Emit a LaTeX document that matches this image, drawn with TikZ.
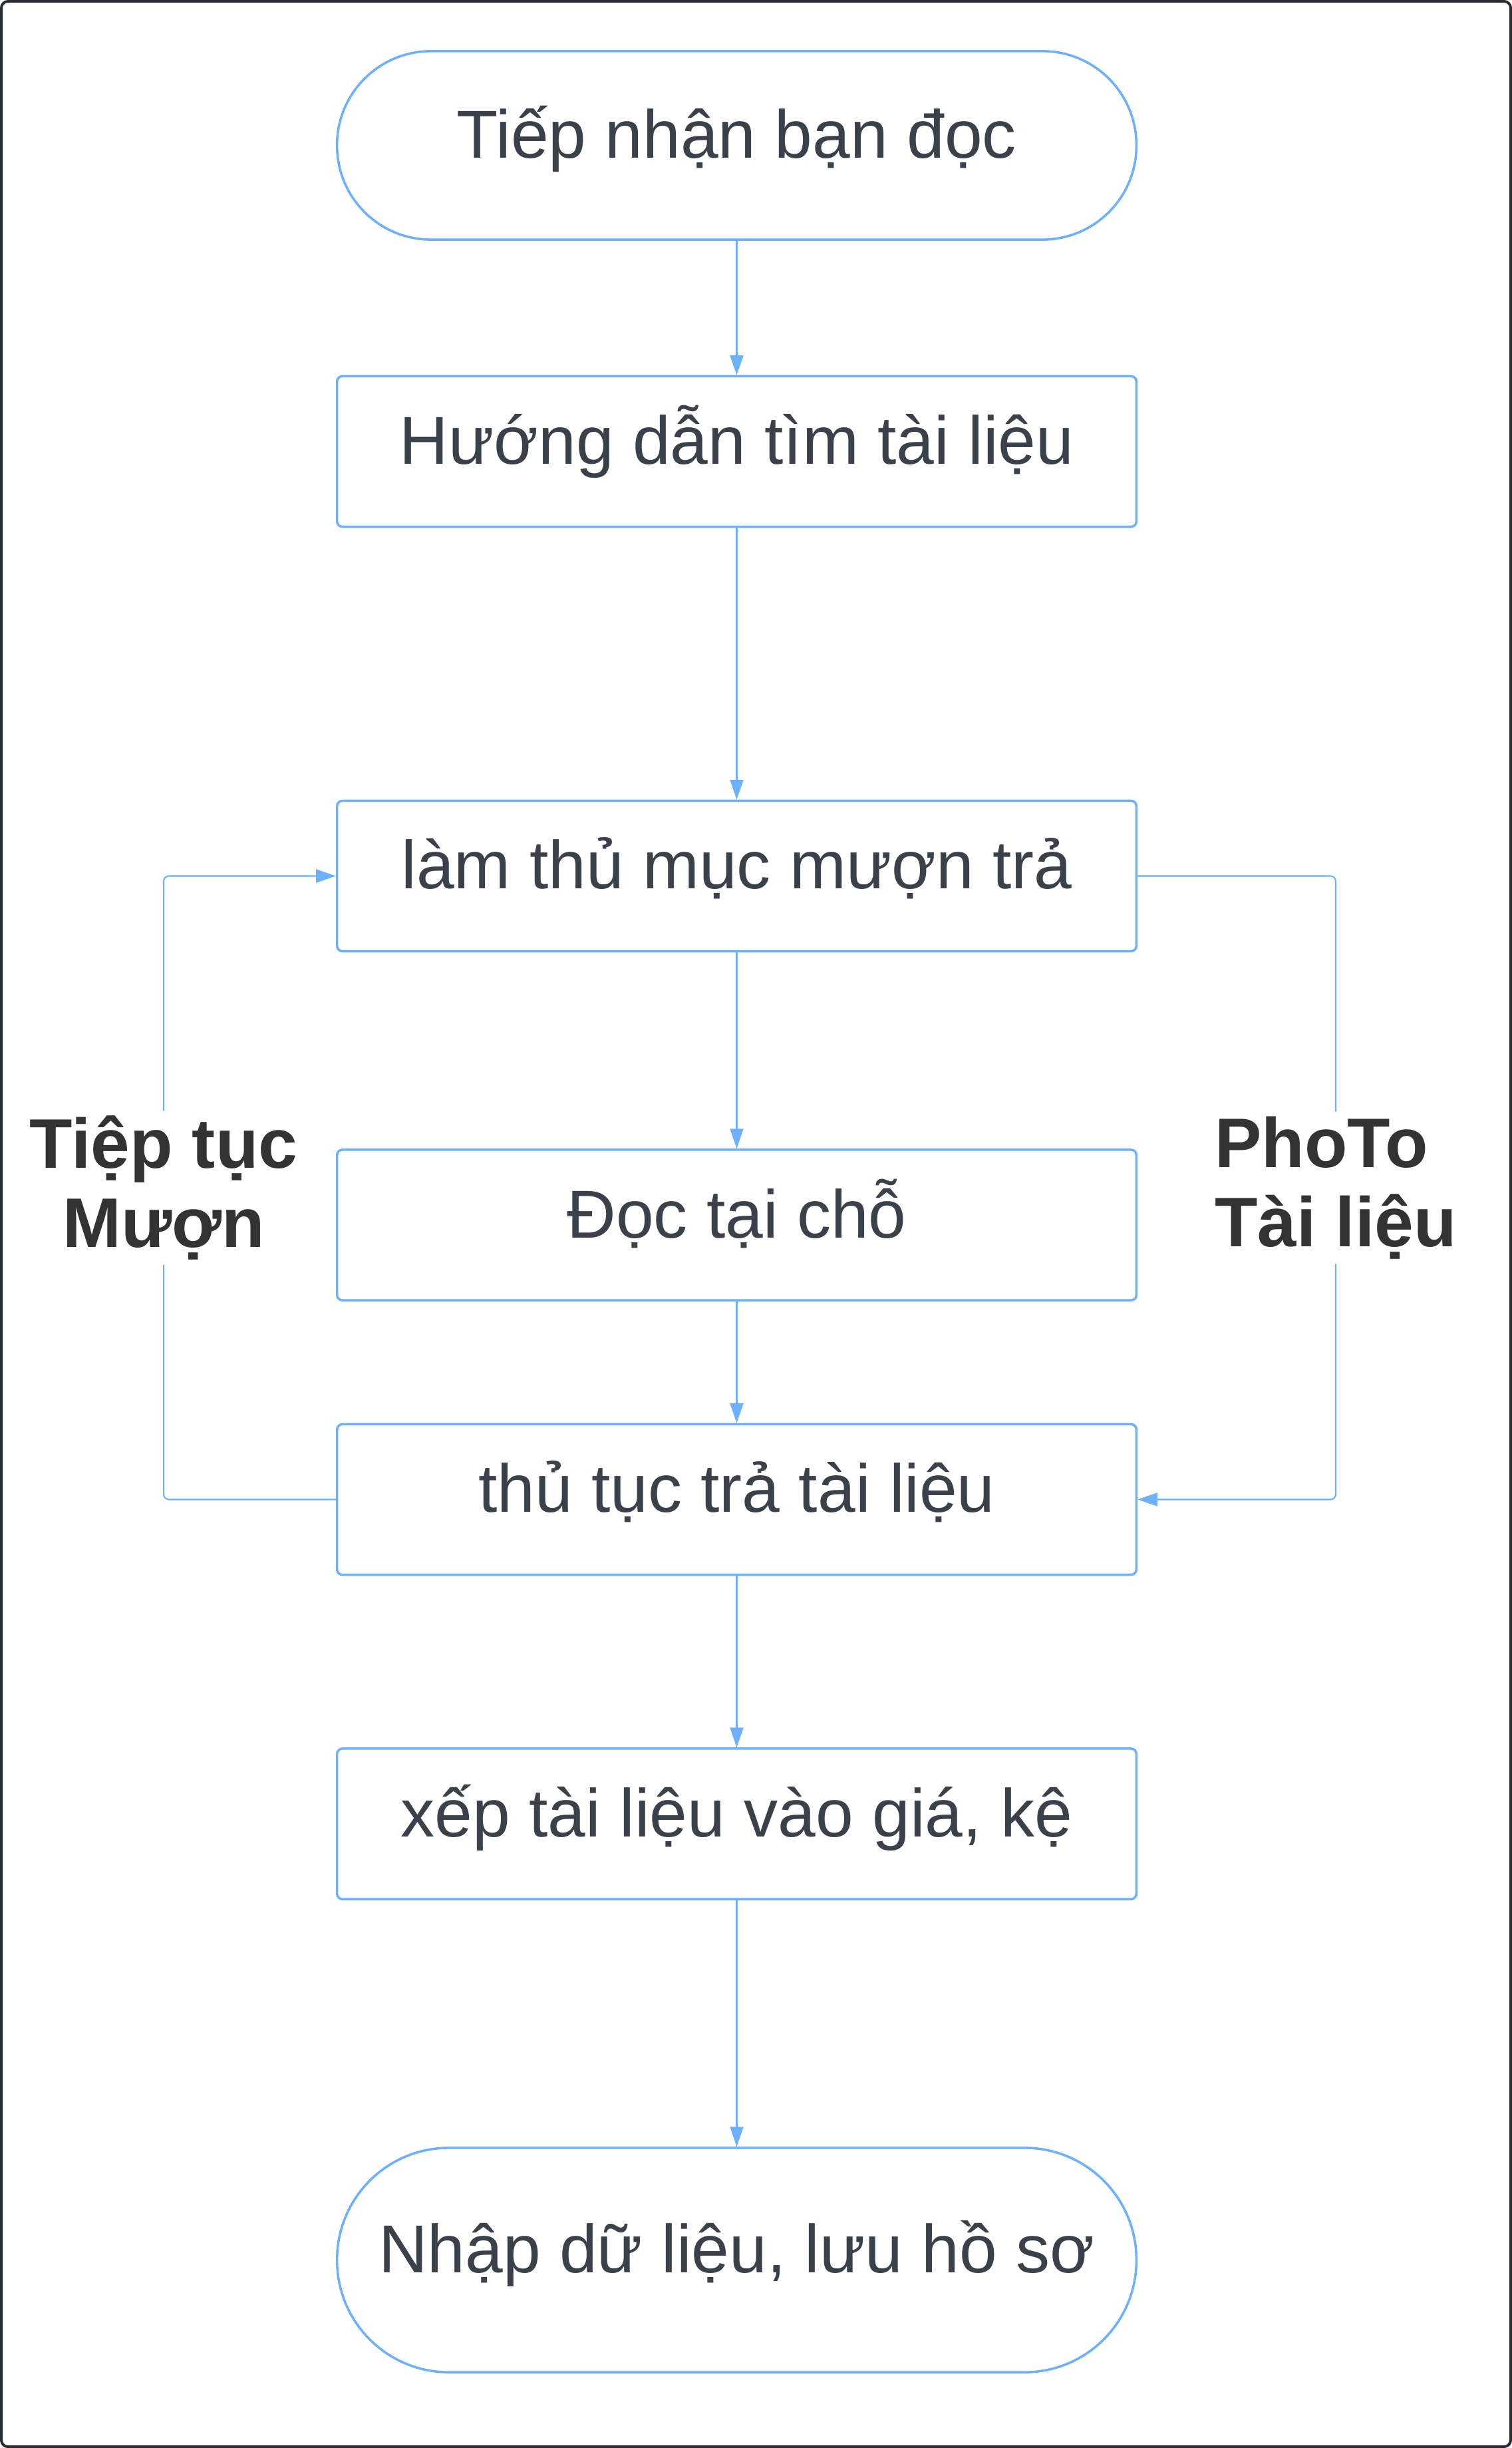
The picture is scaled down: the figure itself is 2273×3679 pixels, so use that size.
\documentclass[tikz,border=0pt]{standalone}
\usepackage{fontspec}
\setmainfont{Liberation Sans}
\definecolor{lib_blue}{RGB}{108, 176, 255}
\definecolor{lib_text}{RGB}{58, 65, 74}
\definecolor{lib_label}{RGB}{51, 51, 51}
\definecolor{lib_frame}{RGB}{40, 44, 51}
\usetikzlibrary{arrows.meta, positioning, calc}

\tikzset{
  stepbox/.style={draw=lib_blue, line width=1pt, rounded corners=0.08cm,
    minimum width=12.01cm, minimum height=2.26cm, inner sep=0pt,
    text height=0.7cm, text depth=0.32cm,
    text=lib_text, font=\fontsize{29}{35}\selectfont},
  terminal/.style={stepbox, rounded corners=1.41cm, minimum height=2.83cm},
  link/.style={draw=lib_blue, line width=0.6pt,
    -{Triangle[length=8.5pt, width=5.7pt]}},
  looplabel/.style={fill=white, text=lib_label, inner sep=2pt,
    font=\fontsize{30}{34}\selectfont\bfseries}
}

\begin{document}
\begin{tikzpicture}[x=0.01cm, y=-0.01cm]
  \useasboundingbox (0,0) rectangle (2273,3679);
  \draw[lib_frame, line width=1.14pt, rounded corners=0.1cm] (2,2) rectangle (2271,3677);

  % main column
  \node[terminal] (start) at (1107.5, 218.5) {Tiếp nhận bạn đọc};
  \node[stepbox]  (guide) at (1107.5, 678.5) {Hướng dẫn tìm tài liệu};
  \node[stepbox]  (borrow) at (1107.5, 1316.5) {làm thủ mục mượn trả};
  \node[stepbox]  (read) at (1107.5, 1841) {Đọc tại chỗ};
  \node[stepbox]  (giveback) at (1107.5, 2253.5) {thủ tục trả tài liệu};
  \node[stepbox]  (shelve) at (1107.5, 2741) {xếp tài liệu vào giá, kệ};
  \node[terminal, rounded corners=1.68cm, minimum height=3.37cm] (finish) at (1107.5, 3396.5) {Nhập dữ liệu, lưu hồ sơ};

  \draw[link] (start) -- (guide);
  \draw[link] (guide) -- (borrow);
  \draw[link] (borrow) -- (read);
  \draw[link] (read) -- (giveback);
  \draw[link] (giveback) -- (shelve);
  \draw[link] (shelve) -- (finish);

  % loops
  \coordinate (leftturn) at (246, 1316.5);
  \coordinate (rightturn) at (2008, 1316.5);
  \draw[link, rounded corners=0.08cm] (giveback.west) -| node[pos=0.75, looplabel, align=center] {Tiệp tục\\Mượn} (leftturn) -- (borrow.west);
  \draw[link, rounded corners=0.08cm] (borrow.east) -- (rightturn) |- node[pos=0.25, looplabel, align=left] {PhoTo\\Tài liệu} (giveback.east);
\end{tikzpicture}
\end{document}
